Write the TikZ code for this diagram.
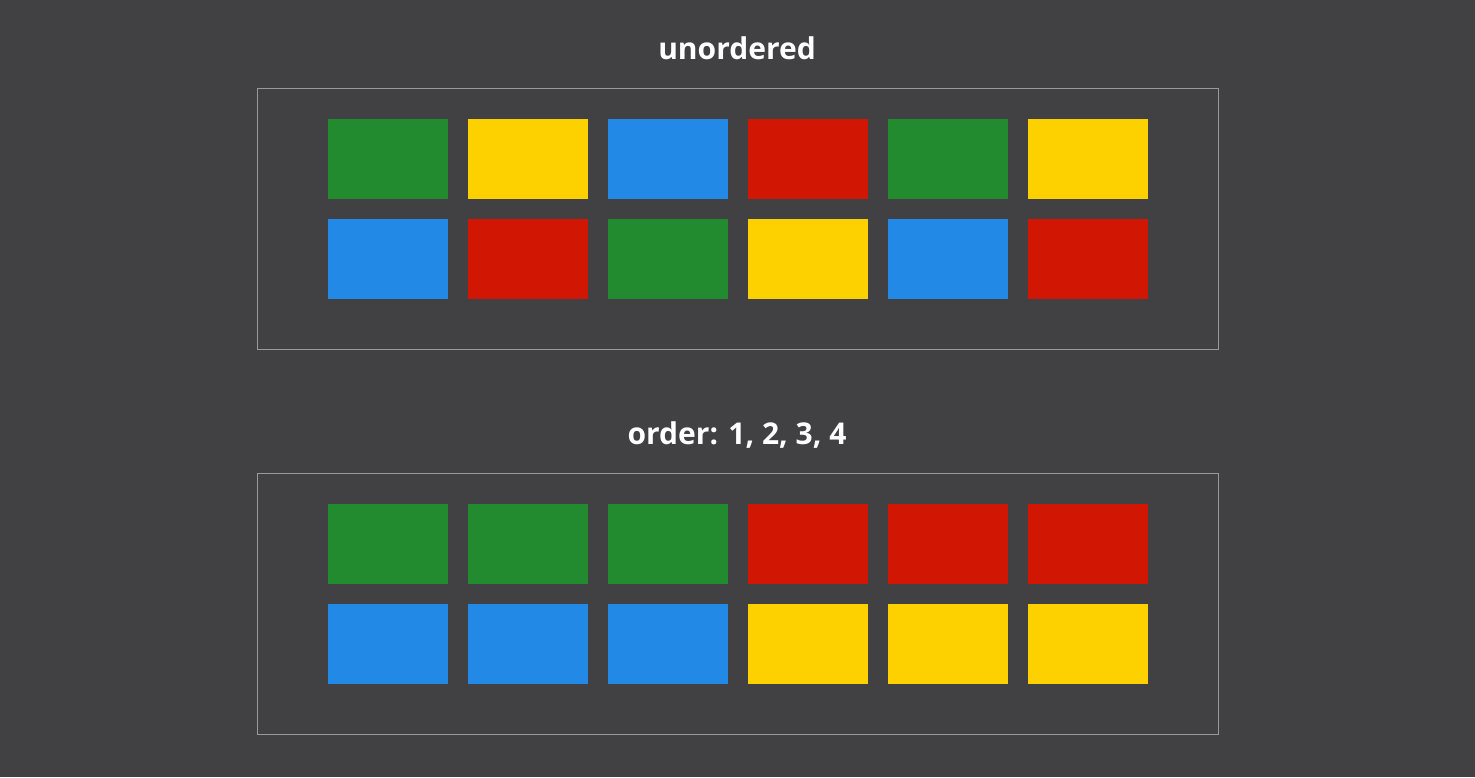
\documentclass[tikz,border=0pt]{standalone}
\usepackage{fontspec}
\setmainfont{Open Sans}
\definecolor{bg}{HTML}{414042}
\definecolor{gr}{HTML}{238B2F}
\definecolor{ye}{HTML}{FDD100}
\definecolor{bl}{HTML}{2289E6}
\definecolor{rd}{HTML}{D11603}
\definecolor{fr}{HTML}{999999}
\tikzset{
  tile/.style={fill=#1, draw=none, minimum width=120pt, minimum height=80pt, inner sep=0pt, anchor=north west},
  frame/.style={draw=fr, line width=1pt, fill=none},
  title/.style={text=white, font=\fontsize{30}{36}\selectfont\bfseries, inner sep=0pt, anchor=base}
}
\begin{document}
\begin{tikzpicture}[x=1pt,y=-1pt]
\useasboundingbox (0,0) rectangle (1475,777);
\fill[bg] (0,0) rectangle (1475,777);
\node[title] (t1) at (737,59) {unordered};
\node[title] (t2) at (737,444) {order: 1, 2, 3, 4};
\draw[frame] (257.5,88.5) rectangle (1218.5,349.5);
\draw[frame] (257.5,473.5) rectangle (1218.5,734.5);
% unordered
\foreach \c [count=\i from 0] in {gr,ye,bl,rd,gr,ye} {
  \node[tile=\c] (a1\i) at (328+140*\i,119) {};
}
\foreach \c [count=\i from 0] in {bl,rd,gr,ye,bl,rd} {
  \node[tile=\c] (a2\i) at (328+140*\i,219) {};
}
% ordered
\foreach \c [count=\i from 0] in {gr,gr,gr,rd,rd,rd} {
  \node[tile=\c] (b1\i) at (328+140*\i,504) {};
}
\foreach \c [count=\i from 0] in {bl,bl,bl,ye,ye,ye} {
  \node[tile=\c] (b2\i) at (328+140*\i,604) {};
}
\end{tikzpicture}
\end{document}
